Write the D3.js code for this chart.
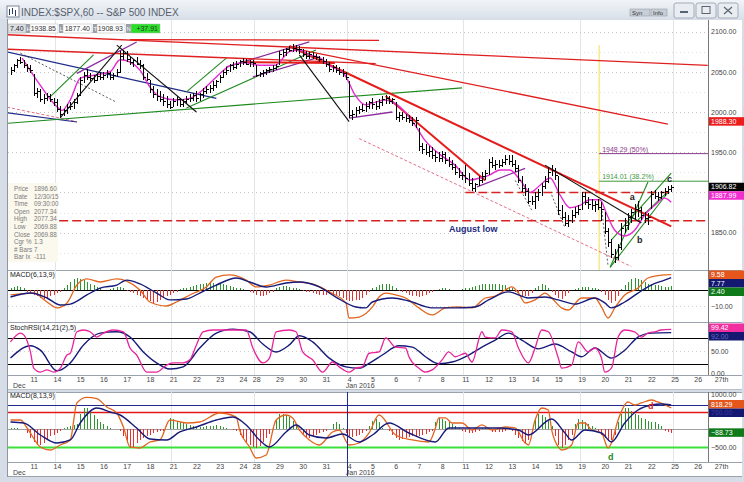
<!DOCTYPE html>
<html><head><meta charset="utf-8">
<script src="https://cdn.jsdelivr.net/npm/d3@7"></script>
<style>html,body{margin:0;padding:0;background:#fff;}svg{display:block;font-family:"Liberation Sans",Arial,sans-serif;}</style>
</head><body><svg id="c" width="744" height="482"></svg>
<script>
// ---------------- DATA ----------------
const days = ["10","11","14","15","16","17","18","21","22","23","24","28","29","30","31","4","5","6","7","8","11","12","13","14","15","19","20","21","22","25","26","27th"];
const dayStart = [0,7,14,21,28,35,42,49,56,63,70,74,81,88,95,102,109,116,123,130,137,144,151,158,165,172,179,186,193,200,207,214];
const weekStart = [14,49,74,102,137,172,200];

const hi = [
2056,2060,2066,2068,2064,2060,2058, 2047,2030,2028,2022,2024,2022,2018, 2016,2008,2004,2010,2012,2016,2024,
2044,2050,2053,2048,2046,2048,2050, 2050,2052,2050,2048,2054,2076,2077, 2076,2068,2066,2068,2064,2060,2048,
2040,2032,2028,2026,2022,2020,2014, 2018,2020,2018,2016,2020,2022,2024, 2026,2024,2030,2032,2034,2038,2040,
2046,2052,2056,2060,2062,2063,2064, 2067,2066,2064,2065, 2058,2050,2052,2054,2056,2058,2060,
2076,2078,2080,2082,2084,2083,2082, 2078,2076,2074,2075,2072,2070,2068, 2066,2062,2058,2058,2056,2054,2050,
2038,2002,2006,2008,2010,2012,2014, 2018,2014,2016,2020,2021,2020,2018, 2012,2000,2000,1998,1996,1994,1994,
1980,1962,1960,1958,1956,1952,1950, 1952,1950,1944,1940,1936,1930,1926, 1934,1924,1918,1912,1920,1926,1928,
1942,1944,1940,1940,1942,1947,1946, 1946,1940,1934,1920,1910,1906,1896, 1900,1904,1912,1920,1932,1934,1930,
1920,1884,1876,1872,1878,1882,1884, 1901,1900,1894,1892,1890,1892,1888, 1876,1856,1842,1830,1836,1862,1868,
1874,1880,1886,1890,1882,1876,1874, 1902,1903,1900,1902,1906,1908,1909];
const lo = [
2046,2050,2055,2060,2055,2050,2048, 2020,2018,2012,2010,2014,2012,2008, 2000,1993,1995,1998,2002,2004,2010,
2020,2036,2040,2038,2036,2038,2040, 2040,2042,2040,2040,2044,2048,2064, 2062,2058,2056,2058,2054,2040,2038,
2024,2018,2014,2012,2008,2005,2004, 2006,2008,2006,2006,2010,2012,2014, 2012,2014,2018,2022,2024,2026,2030,
2036,2042,2046,2050,2052,2054,2056, 2058,2058,2056,2056, 2044,2043,2044,2046,2048,2050,2052,
2058,2068,2070,2074,2075,2074,2072, 2068,2066,2066,2066,2064,2062,2060, 2056,2050,2050,2048,2046,2044,2040,
1992,1990,1994,1998,2000,2000,2004, 2004,2002,2004,2008,2010,2010,2010, 1990,1988,1990,1988,1986,1982,1980,
1952,1948,1946,1944,1942,1938,1938, 1938,1936,1932,1928,1922,1918,1916, 1912,1908,1902,1901,1908,1912,1916,
1922,1930,1928,1930,1932,1934,1934, 1932,1926,1912,1900,1896,1886,1884, 1880,1890,1896,1904,1912,1920,1916,
1872,1866,1858,1857,1862,1868,1872, 1878,1884,1880,1878,1876,1878,1864, 1848,1832,1818,1812,1816,1828,1850,
1854,1862,1866,1870,1866,1862,1860, 1880,1892,1890,1892,1896,1898,1900];
const cl = [
2052,2058,2064,2062,2058,2055,2052, 2024,2026,2016,2018,2020,2016,2012, 2004,1998,2002,2006,2008,2012,2021,
2040,2046,2044,2042,2040,2045,2043, 2046,2048,2044,2046,2050,2070,2073, 2066,2062,2064,2060,2058,2044,2041,
2028,2022,2020,2016,2014,2010,2006, 2014,2016,2010,2014,2016,2018,2021, 2018,2022,2026,2028,2030,2034,2038,
2044,2050,2052,2058,2056,2060,2063, 2062,2060,2062,2061, 2046,2048,2050,2052,2053,2055,2057,
2072,2074,2078,2077,2080,2078,2078, 2072,2070,2072,2070,2068,2066,2063, 2060,2054,2056,2052,2050,2048,2044,
1996,1998,2002,2004,2002,2008,2012, 2010,2008,2012,2016,2018,2014,2016, 1994,1996,1994,1992,1990,1986,1990,
1958,1954,1950,1952,1946,1944,1943, 1948,1940,1936,1932,1926,1922,1922, 1918,1912,1906,1910,1916,1920,1924,
1938,1934,1936,1934,1938,1942,1939, 1936,1930,1916,1906,1902,1890,1890, 1896,1900,1908,1914,1926,1928,1922,
1878,1870,1862,1866,1872,1876,1880, 1896,1888,1886,1884,1886,1882,1880, 1852,1838,1824,1820,1832,1856,1860,
1870,1876,1880,1878,1872,1868,1869, 1898,1896,1894,1900,1902,1904,1907];

const maLine = [[3.5,2067],[9,2033],[13.4,2009],[15.5,2002],[18,2015],[21,2042],[25.5,2046],[30,2050],[33,2065],[36,2062],[39,2052],[42,2031],[45,2019],[49.5,2015],[54,2017],[58.6,2030],[61.6,2042],[66,2057],[70.6,2061],[75,2058],[79.7,2058],[84,2075],[87,2077],[90,2071],[93,2068],[96,2058],[100.7,2046],[103.8,2021],[106.8,2009],[109.8,2012],[112.8,2015],[115.8,2011],[118.8,2000],[121.8,1984],[124.8,1965],[129.4,1947],[133.9,1934],[138.4,1915.5],[141.4,1918],[144.4,1922],[147.4,1928],[150.4,1928],[153.5,1915.5],[156.5,1900],[159.5,1909],[162.5,1918],[165.5,1897],[168.5,1881],[171.5,1884],[174.5,1891],[177.5,1891],[179.7,1872],[182,1853],[185,1846],[188,1853],[191,1872],[194,1884],[197,1893],[199,1888]];

// trendlines drawn on the chart: [barIndex1, price1, barIndex2, price2]
const redThin = [[-1,2096,210,2058],[-1,2078,110,2060],[36,2090,111,2089],[84,2080,198,1985]];
const redThick = [[84,2082,199,1858],[113,2020,143,1915],[70.6,2062,97.7,2061]];
const redDotted = [[105,1967,187,1808],[-1,2006,20,1988]];
const greenLines = [[-1,1986,136,2030],[53,2005,92,2077],[12,2019,25,2071],[53,2025,65,2067],[180.6,1807,198,1900],[180.6,1807,192,1913],[181,1841,199,1924],[189,1866,198,1901]];
const blackLines = [[15,1993,33.5,2083],[32,2083,56,2000],[87,2071,102,1988],[161,1934,190,1862]];
const blackDashed = [[3,2073,32,2012],[152,1915,157,1878],[163,1897,167,1856],[178,1882,180,1808]];
const purpleLines = [[20,2048,38,2087],[65,2056,90,2087],[73,2043.5,92,2067],[102,1992.5,115,2000],[140.5,1907,155,1930]];
const navyLines = [[-1,2074.5,62,2017],[-1,1999,20,1987.6]];
const levelLines = [[137,1900,199,1900],[-1,1865,214,1865]];
const fibStart = 177.3, fibTop = 2083;
const fibLevels = [1948.29, 1914.01];
const fibText = ["1948.29 (50%)", "1914.01 (38.2%)"];
const priceTicks = [2100,2050,2000,1950,1850];
const priceBoxes = [1988.30, 1906.82, 1887.99];
const waveLabels = [["a",186.5,1891],["b",188.7,1837],["c",197.7,1913]];

// MACD(6,13,9)
const macd1 = [[0,-3.1],[7,-1.9],[11,-7.5],[14,-11.2],[17,-8.1],[20,3.1],[23,6.9],[27,5],[32,6.9],[35,5.6],[39,0],[42,-7.5],[47,-10],[50,-7.5],[54,-3.1],[59,1.9],[62,8.1],[66,9.4],[71,6.2],[74,1.9],[78,3.1],[83,6.2],[87,5],[92,3.1],[96,-1.2],[101,-8.1],[102,-17.5],[105,-16.9],[109,-10.6],[111,-4.4],[113,-1.9],[116,-3.1],[119,-5],[123,-11.2],[127,-15.6],[131,-11.2],[135,-10.6],[139,-11.2],[143,-5],[146,-3.8],[149,0],[151,1.9],[153,-1.9],[155,-8.1],[158,-6.2],[161,-1.9],[163,-5],[166,-11.2],[168,-12.5],[172,-5],[176,-5],[178,-10.6],[180,-17.5],[182,-11.2],[185,-3.1],[189,1.2],[192,7.5],[197,9.4],[199,9.58]];
const signal1 = [[0,-4.4],[6,-1.9],[11,-5],[15,-9.4],[18,-8.8],[23,-3.1],[27,1.2],[32,3.1],[35,6.2],[39,3.8],[44,-1.9],[48,-6.2],[53,-5.6],[57,-1.9],[62,3.1],[68,7.5],[72,5],[77,1.9],[83,4.4],[87,5],[93,1.9],[98,-4.4],[104,-10.6],[107,-11.2],[109,-7.5],[115,-5],[120,-6.9],[127,-11.2],[134,-11.2],[140,-10.6],[144,-6.2],[150,-1.2],[156,-5],[161,-4.4],[165,-6.2],[170,-8.8],[176,-5],[179,-8.1],[181,-11.2],[185,-7.5],[189,-1.9],[193,3.1],[197,6.2],[199,7.77]];
const hist1 = [1,2,2.5,2,1, -1,-2,-3,-4,-5,-5.5,-5,-4,-3,-2,-1, 1,3,5,7,7.5,7,6,5,4,3,2,1, 0,0,0.5, 1,2,2,1,
-0.5,-1,-2,-3,-4,-5,-6,-7,-8,-7.5,-6,-5,-4,-3,-2,-1, 0.5,1,1.5,2,2.5,3,3.5,4,4.4,4.4,4.4,4,4,3.5,3,2.5,2,1.5,1,0.5,0,
-1,-2,-3,-4,-4,-3,-2,-1, 1,2,2.5,2.5,2,1.5,1,0.5, -0.5,-1,-1.5,-2,-2.5,-3,-3,-3,-2.5,-3,-3.5,-4,-5,-6,
-7,-7,-6.5,-6,-5,-3,-1, 1,2,3,4,4,3.5,2.5,1, -0.5,-1,-2,-3,-3.5,-4,-4.5,-4,-3,-2,-1, 0,0.5,1,1,0.5,0,
0,0,0.5,1,1.5,2,2.5,3,3.5,4,4,4,4,3.5,3,3,2,1, -1,-2,-3.5,-4,-3.5,-2, 1,2.5,4,3,1, -1,-3,-5,-5.6,-4,-2,
0,0.5,1,2,2,2,1.5,1,0.5, -1,-3,-6,-8,-7,-4, 0.5,3,5,7,7.5,7,6,5,4,4,3,3,2.5,2,2,2.4];
const macd1Ticks = [-10];

// StochRSI(14,21(2),5)
const stochK = [[0,71],[3,91],[4,87],[6,48],[7,11],[9,2],[11,7],[13,2],[15,11],[17,41],[18,45],[20,94],[22,98],[24,94],[26,82],[28,91],[31,98],[34,94],[36,57],[38,41],[41,2],[44,2],[47,18],[49,23],[52,23],[54,30],[56,64],[58,94],[61,98],[66,98],[71,98],[73,57],[76,23],[78,34],[80,94],[84,98],[86,94],[88,48],[91,30],[94,2],[97,25],[99,14],[102,2],[104,11],[106,14],[108,45],[111,48],[113,80],[116,59],[119,57],[120,37],[123,11],[125,2],[127,7],[130,30],[132,48],[134,37],[137,45],[139,25],[142,94],[143,82],[146,80],[148,98],[151,94],[153,57],[156,23],[158,57],[160,98],[162,94],[165,34],[166,11],[169,18],[171,71],[174,48],[176,57],[178,34],[179,2],[181,11],[183,82],[185,98],[188,94],[190,82],[192,91],[194,94],[196,98],[199,99.42]];
const stochD = [[0,34],[6,62],[9,52],[14,5],[18,23],[22,64],[27,91],[32,94],[36,82],[40,48],[44,23],[48,9],[52,14],[57,57],[62,91],[67,100],[72,94],[76,66],[80,48],[84,64],[87,85],[91,71],[96,34],[101,14],[105,11],[108,22],[112,41],[117,62],[121,59],[125,37],[129,21],[133,25],[138,41],[142,59],[146,75],[150,91],[154,75],[159,55],[164,66],[169,48],[172,37],[176,57],[181,34],[185,52],[189,82],[193,91],[199,92]];
const stochLevels = [80,20];
const stochTicks = [50,0];

// MACD(8,13,9) lower pane
const macd2 = [[0,271],[3,271],[5,43],[9,-500],[12,-586],[15,-443],[18,-300],[20,760],[23,920],[26,880],[29,643],[32,471],[34,71],[36,-500],[39,-529],[42,-357],[45,-300],[48,271],[53,186],[57,214],[63,471],[68,357],[69,-14],[72,-500],[74,-814],[77,-729],[80,271],[83,414],[85,329],[87,-14],[90,-300],[93,-443],[97,-71],[99,-14],[102,-443],[105,-386],[108,-100],[111,414],[116,-157],[121,-300],[126,-357],[128,43],[129,329],[131,329],[133,186],[136,186],[139,-14],[142,129],[145,-14],[149,71],[152,43],[155,-386],[156,-443],[158,271],[160,614],[162,557],[163,-14],[165,-500],[166,-586],[169,-443],[171,186],[173,186],[175,-14],[178,-100],[180,-529],[181,-386],[183,271],[186,786],[188,700],[190,757],[193,843],[195,786],[199,614]];
const signal2 = [[0,214],[4,186],[9,-157],[14,-386],[18,-300],[21,186],[26,614],[30,500],[33,414],[38,43],[42,-271],[47,-300],[51,-71],[56,71],[62,271],[67,357],[71,129],[75,-300],[78,-500],[83,-71],[86,129],[90,-157],[95,-243],[100,-129],[105,-357],[109,-157],[114,186],[120,-100],[128,-357],[132,43],[139,43],[147,43],[153,-14],[156,-157],[163,300],[167,-100],[169,-300],[173,-14],[178,-100],[181,-357],[185,186],[189,557],[193,700],[196,729],[199,700]];
const hist2 = [50,50,50,20,0, -100,-250,-350,-430,-430,-400,-300,-200,-150,-100,-50, 50,80,100,120,150, 450,620,600,500,400,300,200,150,100,50, 0,0,
-50,-200,-400,-520,-500,-400,-300,-250,-200,-150,-100,-80,-50,-30,0, 340,300,250,200,180,150,120,100,80,60,80,100,100,100,120,100,80,50,20,
-20,-50,-150,-250,-350,-450,-500,-520,-480,-350,-250,-120, 50,300,430,430,400,350,250,120, -50,-150,-230,-230,-200,-150,-100,-80,-50,0,
150,200,150,50, -100,-200,-220,-200,-150,-100,-50, 100,250,290,200, 50,0,-50,-150,-250,-290,-270,-250,-220,-200,-200,-180,-150,-120,-80,-40,
200,330,300,250,200,150,100,50, -30,-80,-100,-100,-60,-30, 30,30,30, -80,-80,-80,-80,-30,0, -50,-150,-250,-330,-380,-300,-100,
300,430,400,350,250,100, -200,-450,-520,-450,-300,-150, 150,290,280,200,150,100,50, -50,-150,-250,-330,-300,-150,
200,450,620,600,520,450,400,330,300,250,220,200,150,100,-40,-60,-88.73];
const macd2Levels = [700,500,0,-500];
const macd2Ticks = [1000,500,-500];
const macd2Last = 818.29, signal2Last = 760;
const macd2Labels = [["d",192,590,"#e01818"],["d",180,-870,"#1e8a1e"]];

const dataWindow = [["Price","1896.60"],["Date","12/30/15"],["Time","09:30:00"],["Open","2077.34"],["High","2077.34"],["Low","2069.88"],["Close","2069.88"],["Cgr %","1.3"],["# Bars","7"],["Bar Ix","-111"]];
const infoRow = [["7.40",""],["H","1938.85"],["L","1877.40"],["T","1908.93"],["N","+37.91"]];

// ---------------- LAYOUT ----------------
const svg = d3.select("#c");
const L = 8, R = 708;
const P = {top:20, bot:270}, M = {top:270, bot:322}, S = {top:323, bot:375}, B = {top:392, bot:462};

const xS = d3.scaleLinear().domain([0,214]).range([10.5,721]);
const yP = d3.scaleLinear().domain([1803.7,2114.3]).range([P.bot,P.top]);
const yM = d3.scaleLinear().domain([-20,12.5]).range([M.bot,M.top]);
const yS = d3.scaleLinear().domain([-4.6,114]).range([S.bot,S.top]);
const yB = d3.scaleLinear().domain([-929,1071]).range([B.bot,B.top]);

// frame
svg.append("rect").attr("width",744).attr("height",482).attr("fill","#d6dde6");
const tg = svg.append("defs").append("linearGradient").attr("id","tb").attr("x1",0).attr("y1",0).attr("x2",0).attr("y2",1);
tg.append("stop").attr("offset","0").attr("stop-color","#f1f4f8");
tg.append("stop").attr("offset","1").attr("stop-color","#d9e0e9");
svg.append("rect").attr("x",0).attr("y",0).attr("width",744).attr("height",19).attr("fill","url(#tb)");
[[P.top,P.bot],[M.top,M.bot],[S.top,S.bot],[S.bot,389],[B.top,B.bot],[B.bot,476]].forEach(([a,b])=>{
  svg.append("rect").attr("x",L).attr("y",a).attr("width",744-L-2).attr("height",b-a).attr("fill","#fff");
});
svg.append("line").attr("x1",L-0.5).attr("x2",L-0.5).attr("y1",19).attr("y2",477).attr("stroke","#8d96a2");

const defs = svg.select("defs");
function clip(id, top, bot){ defs.append("clipPath").attr("id",id).append("rect").attr("x",L).attr("y",top).attr("width",R-L).attr("height",bot-top); }
clip("cp",P.top,P.bot); clip("cm",M.top,M.bot); clip("cs",S.top,S.bot); clip("cb",B.top,B.bot);

[[P.bot],[M.bot],[S.bot],[389],[B.top],[B.bot],[476]].forEach(([y])=>{
  svg.append("line").attr("x1",L).attr("x2",742).attr("y1",y+0.5).attr("y2",y+0.5).attr("stroke","#9aa3ad");
});
svg.append("rect").attr("x",L).attr("y",389.5).attr("width",734).attr("height",2.5).attr("fill","#d6dde6");
svg.append("line").attr("x1",R+0.5).attr("x2",R+0.5).attr("y1",P.top).attr("y2",S.bot).attr("stroke","#777");
svg.append("line").attr("x1",R+0.5).attr("x2",R+0.5).attr("y1",B.top).attr("y2",B.bot).attr("stroke","#777");

[[P.top,P.bot],[M.top,M.bot],[S.top,S.bot],[B.top,B.bot]].forEach(([a,b])=>{
  svg.append("g").selectAll("line").data(weekStart).join("line")
    .attr("x1",d=>Math.round(xS(d-0.6))+0.5).attr("x2",d=>Math.round(xS(d-0.6))+0.5)
    .attr("y1",a).attr("y2",b).attr("stroke","#e2e5ea");
});
svg.append("g").selectAll("line").data(d3.range(1825,2101,25)).join("line")
  .attr("x1",L).attr("x2",R).attr("y1",d=>Math.round(yP(d))+0.5).attr("y2",d=>Math.round(yP(d))+0.5)
  .attr("stroke",d=>d%50===0?"#c4c4c4":"#dedede").attr("stroke-dasharray","1,3");
svg.append("line").attr("x1",L).attr("x2",R).attr("y1",Math.round(yM(-10))+0.5).attr("y2",Math.round(yM(-10))+0.5).attr("stroke","#cfcfcf").attr("stroke-dasharray","1,3");
svg.append("line").attr("x1",L).attr("x2",R).attr("y1",Math.round(yS(50))+0.5).attr("y2",Math.round(yS(50))+0.5).attr("stroke","#cfcfcf").attr("stroke-dasharray","1,3");

// ---------------- PRICE PANE ----------------
const gp = svg.append("g").attr("clip-path","url(#cp)");
function segs(g, arr, color, w, dash){
  g.append("g").selectAll("line").data(arr).join("line")
    .attr("x1",d=>xS(d[0])).attr("y1",d=>yP(d[1])).attr("x2",d=>xS(d[2])).attr("y2",d=>yP(d[3]))
    .attr("stroke",color).attr("stroke-width",w).attr("stroke-dasharray",dash||null);
}
gp.append("line").attr("x1",xS(fibStart)).attr("x2",xS(fibStart)).attr("y1",yP(fibTop)).attr("y2",P.bot).attr("stroke","#f4e36a").attr("stroke-width",1.2);
gp.append("g").selectAll("line").data(fibLevels).join("line")
  .attr("x1",xS(fibStart)).attr("x2",R).attr("y1",d=>yP(d)).attr("y2",d=>yP(d))
  .attr("stroke",(d,i)=>i===0?"#8b3a8b":"#3d9a3d").attr("stroke-width",1);
gp.append("g").selectAll("text").data(fibLevels).join("text")
  .attr("x",xS(fibStart)+3).attr("y",d=>yP(d)-2).text((d,i)=>fibText[i])
  .attr("font-size",7).attr("fill",(d,i)=>i===0?"#8b3a8b":"#3d9a3d");

segs(gp, redDotted, "#e0607a", 0.9, "3,2");
segs(gp, navyLines, "#1f2a8a", 1.2);
segs(gp, greenLines, "#1e8a1e", 1.1);
segs(gp, purpleLines, "#8c2aa0", 1.3);
segs(gp, blackDashed, "#333", 0.8, "2,2");
segs(gp, redThin, "#e02020", 1.3);
segs(gp, redThick, "#e51c1c", 2);
segs(gp, levelLines, "#d62222", 1.5, "9,4");

gp.append("path").datum(maLine).attr("fill","none").attr("stroke","#e52bd0").attr("stroke-width",1.4)
  .attr("d",d3.line().x(d=>xS(d[0])).y(d=>yP(d[1])).curve(d3.curveMonotoneX));
const bars = gp.append("g").attr("stroke","#000").attr("stroke-width",1).attr("shape-rendering","crispEdges");
bars.selectAll("line.v").data(cl).join("line").attr("class","v")
  .attr("x1",(d,i)=>Math.round(xS(i))+0.5).attr("x2",(d,i)=>Math.round(xS(i))+0.5)
  .attr("y1",(d,i)=>yP(hi[i])).attr("y2",(d,i)=>yP(lo[i]));
bars.selectAll("line.c").data(cl).join("line").attr("class","c")
  .attr("x1",(d,i)=>Math.round(xS(i))+0.5).attr("x2",(d,i)=>Math.round(xS(i))+2.5)
  .attr("y1",d=>Math.round(yP(d))+0.5).attr("y2",d=>Math.round(yP(d))+0.5);
segs(gp, blackLines, "#111", 1.1);

gp.append("text").attr("x",449).attr("y",yP(1865)+11).text("August low").attr("font-size",9).attr("font-weight","bold").attr("fill","#1c2a7e");
gp.append("g").selectAll("text").data(waveLabels).join("text")
  .attr("x",d=>xS(d[1])).attr("y",d=>yP(d[2])).text(d=>d[0])
  .attr("font-size",9).attr("font-weight","bold").attr("fill","#222");

// Data window
const dw = svg.append("g");
dw.append("rect").attr("x",L).attr("y",183).attr("width",50).attr("height",79).attr("fill","#fbf8ee");
dw.selectAll("text.k").data(dataWindow).join("text").attr("class","k").attr("x",14).attr("y",(d,i)=>191+i*7.6).text(d=>d[0]).attr("font-size",6.3).attr("fill","#7a7a7a");
dw.selectAll("text.v").data(dataWindow).join("text").attr("class","v").attr("x",34).attr("y",(d,i)=>191+i*7.6).text(d=>d[1]).attr("font-size",6.3).attr("fill","#7a7a7a");

// info row
const ir = svg.append("g").attr("font-size",7);
const irX = [[8,18],[26,4,30,28],[59,4,63,29],[93,4,97,28],[126,5,131,29]];
ir.append("rect").attr("x",8).attr("y",24).attr("width",18).attr("height",9).attr("fill","#dcdfe4").attr("stroke","#999").attr("stroke-width",0.5);
ir.append("text").attr("x",10).attr("y",31).text(infoRow[0][0]).attr("fill","#222");
infoRow.slice(1).forEach((d,k)=>{
  const s = irX[k+1];
  ir.append("rect").attr("x",s[0]).attr("y",24).attr("width",s[1]).attr("height",9).attr("fill","#9aa0a8");
  ir.append("text").attr("x",s[0]+0.5).attr("y",31).text(d[0]).attr("fill","#fff").attr("font-size",6);
  ir.append("rect").attr("x",s[2]).attr("y",24).attr("width",s[3]).attr("height",9)
    .attr("fill",k===3?"#27e027":"#fff").attr("stroke","#b5b5b5").attr("stroke-width",0.5);
  ir.append("text").attr("x",s[2]+s[3]-2).attr("y",31).attr("text-anchor","end").text(d[1]).attr("fill","#333");
});

// ---------------- MACD 1 ----------------
const gm = svg.append("g").attr("clip-path","url(#cm)");
gm.append("line").attr("x1",L).attr("x2",R).attr("y1",Math.round(yM(0))+0.5).attr("y2",Math.round(yM(0))+0.5).attr("stroke","#000");
gm.append("g").attr("shape-rendering","crispEdges").selectAll("line").data(hist1).join("line")
  .attr("x1",(d,i)=>Math.round(xS(i))+0.5).attr("x2",(d,i)=>Math.round(xS(i))+0.5)
  .attr("y1",yM(0)).attr("y2",d=>yM(d)).attr("stroke",d=>d>=0?"#2c962c":"#e43030");
const lnM = d3.line().x(d=>xS(d[0])).y(d=>yM(d[1])).curve(d3.curveMonotoneX);
gm.append("path").datum(macd1).attr("d",lnM).attr("fill","none").attr("stroke","#e2651f").attr("stroke-width",1.3);
gm.append("path").datum(signal1).attr("d",lnM).attr("fill","none").attr("stroke","#161a78").attr("stroke-width",1.4);
svg.append("text").attr("x",10).attr("y",277).text("MACD(6,13,9)").attr("font-size",7).attr("fill","#222");

// ---------------- STOCH RSI ----------------
const gs = svg.append("g").attr("clip-path","url(#cs)");
gs.selectAll("line.lv").data(stochLevels).join("line").attr("class","lv")
  .attr("x1",L).attr("x2",R).attr("y1",d=>Math.round(yS(d))+0.5).attr("y2",d=>Math.round(yS(d))+0.5).attr("stroke","#000");
const lnS = d3.line().x(d=>xS(d[0])).y(d=>yS(d[1])).curve(d3.curveMonotoneX);
gs.append("path").datum(stochD).attr("d",lnS).attr("fill","none").attr("stroke","#161a78").attr("stroke-width",1.4);
gs.append("path").datum(stochK).attr("d",lnS).attr("fill","none").attr("stroke","#e8239a").attr("stroke-width",1.3);
svg.append("text").attr("x",10).attr("y",330).text("StochRSI(14,21(2),5)").attr("font-size",7).attr("fill","#222");

// ---------------- MACD 2 ----------------
const gb = svg.append("g").attr("clip-path","url(#cb)");
gb.selectAll("line.lv").data(macd2Levels).join("line").attr("class","lv")
  .attr("x1",L).attr("x2",R).attr("y1",d=>Math.round(yB(d))+0.5).attr("y2",d=>Math.round(yB(d))+0.5)
  .attr("stroke",(d,i)=>["#1e2a8a","#e01818","#888","#3be03b"][i]).attr("stroke-width",(d,i)=>[1,1.5,0.8,2.2][i]);
gb.append("g").attr("shape-rendering","crispEdges").selectAll("line").data(hist2).join("line")
  .attr("x1",(d,i)=>Math.round(xS(i))+0.5).attr("x2",(d,i)=>Math.round(xS(i))+0.5)
  .attr("y1",yB(0)).attr("y2",d=>yB(d)).attr("stroke",d=>d>=0?"#2c962c":"#e43030");
const lnB = d3.line().x(d=>xS(d[0])).y(d=>yB(d[1])).curve(d3.curveMonotoneX);
gb.append("path").datum(macd2).attr("d",lnB).attr("fill","none").attr("stroke","#e2651f").attr("stroke-width",1.3);
gb.append("path").datum(signal2).attr("d",lnB).attr("fill","none").attr("stroke","#161a78").attr("stroke-width",1.4);
svg.append("line").attr("x1",xS(101.5)).attr("x2",xS(101.5)).attr("y1",B.top).attr("y2",476).attr("stroke","#1e2a8a").attr("stroke-width",1);
svg.append("text").attr("x",10).attr("y",398).text("MACD(8,13,9)").attr("font-size",7).attr("fill","#222");
gb.append("g").selectAll("text").data(macd2Labels).join("text")
  .attr("x",d=>xS(d[1])).attr("y",d=>yB(d[2])).text(d=>d[0])
  .attr("font-size",9).attr("font-weight","bold").attr("fill",d=>d[3]);

// ---------------- AXES ----------------
function yAxis(scale, ticks){
  const g = svg.append("g").attr("transform",`translate(${R},0)`)
    .call(d3.axisRight(scale).tickValues(ticks).tickFormat(d3.format(".2f")).tickSize(0).tickPadding(3));
  g.select(".domain").remove();
  g.selectAll("text").attr("font-size",7).attr("fill","#444").attr("font-family","Liberation Sans, Arial");
}
yAxis(yP, priceTicks); yAxis(yM, macd1Ticks); yAxis(yS, stochTicks); yAxis(yB, macd2Ticks);

function xAxis(y){
  const g = svg.append("g").attr("transform",`translate(0,${y})`)
    .call(d3.axisBottom(xS).tickValues(dayStart.slice(1)).tickFormat(d=>days[dayStart.indexOf(d)]).tickSize(0).tickPadding(2));
  g.select(".domain").remove();
  g.selectAll("text").attr("font-size",7).attr("fill","#444").attr("font-family","Liberation Sans, Arial");
}
xAxis(S.bot); xAxis(B.bot);
[[388],[475]].forEach(([y])=>{
  svg.append("text").attr("x",13).attr("y",y).text("Dec").attr("font-size",7).attr("fill","#444");
  svg.append("text").attr("x",xS(101)).attr("y",y).text("Jan 2016").attr("font-size",7).attr("fill","#444");
});

function boxes(items, scale, top){
  const h = 8.5;
  items.forEach(it=>it.y=scale(it.v));
  items.sort((a,b)=>a.y-b.y);
  let prev = top;
  items.forEach(it=>{
    let y0 = Math.max(it.y-h/2, top);
    if (y0 < prev + h) y0 = Math.max(prev, y0);
    if (y0 - prev < h && y0 > prev) y0 = prev;
    it.y0 = y0; prev = y0 + h;
    svg.append("rect").attr("x",R+1).attr("y",y0).attr("width",35).attr("height",h).attr("fill",it.bg);
    svg.append("text").attr("x",R+3).attr("y",y0+h-1.8).text(d3.format(".2f")(it.v)).attr("font-size",7).attr("fill",it.fg||"#fff");
  });
}
boxes([{v:priceBoxes[0],bg:"#ec1c1c"}], yP, P.top);
boxes([{v:priceBoxes[1],bg:"#050505"},{v:priceBoxes[2],bg:"#f02ed0"}], yP, P.top);
boxes([{v:macd1[macd1.length-1][1],bg:"#e4561c"},{v:signal1[signal1.length-1][1],bg:"#141870"},{v:hist1[hist1.length-1],bg:"#0e7a1a"}], yM, M.top+0.5);
boxes([{v:stochK[stochK.length-1][1],bg:"#f02ea0"},{v:stochD[stochD.length-1][1],bg:"#141870",fg:"#6a6ac0"}], yS, S.top+0.5);
boxes([{v:signal2Last,bg:"#141870",fg:"#3a3aa0"},{v:macd2Last,bg:"#e4561c"}], yB, B.top+8);
boxes([{v:hist2[hist2.length-1],bg:"#0e7a1a"}], yB, B.top);

// ---------------- TITLE BAR ----------------
const ic = svg.append("g");
ic.append("rect").attr("x",7).attr("y",6).attr("width",12).attr("height",11).attr("fill","#fff").attr("stroke","#7a8696");
[[9,9,15],[12,8,14],[15,10,16]].forEach(([x,a,b])=>ic.append("line").attr("x1",x+0.5).attr("x2",x+0.5).attr("y1",a).attr("y2",b).attr("stroke","#2a3a6a"));
svg.append("text").attr("x",21).attr("y",15.5).text("INDEX:$SPX,60 -- S&P 500 INDEX").attr("font-size",10).attr("fill","#57606c");
[["Syn",630,20],["Info",651,16]].forEach(([t,x,w])=>{
  svg.append("rect").attr("x",x).attr("y",9).attr("width",w).attr("height",7).attr("fill","#c9ced6").attr("stroke","#8a929c").attr("stroke-width",0.5);
  svg.append("text").attr("x",x+2).attr("y",15).text(t).attr("font-size",6).attr("fill","#333");
});
[[674,"min"],[696,"max"],[718,"close"]].forEach(([x,k])=>{
  svg.append("rect").attr("x",x).attr("y",3).attr("width",20).attr("height",15).attr("rx",2).attr("fill","#e9edf2").attr("stroke","#a3acb8");
  if(k==="min") svg.append("rect").attr("x",x+6).attr("y",11).attr("width",8).attr("height",2).attr("fill","#5a6472");
  if(k==="max") svg.append("rect").attr("x",x+6).attr("y",6.5).attr("width",8).attr("height",7).attr("fill","none").attr("stroke","#5a6472");
  if(k==="close"){ svg.append("path").attr("d",`M${x+6},7L${x+14},14M${x+14},7L${x+6},14`).attr("stroke","#5a6472").attr("stroke-width",1.2); }
});
</script>
</body></html>
